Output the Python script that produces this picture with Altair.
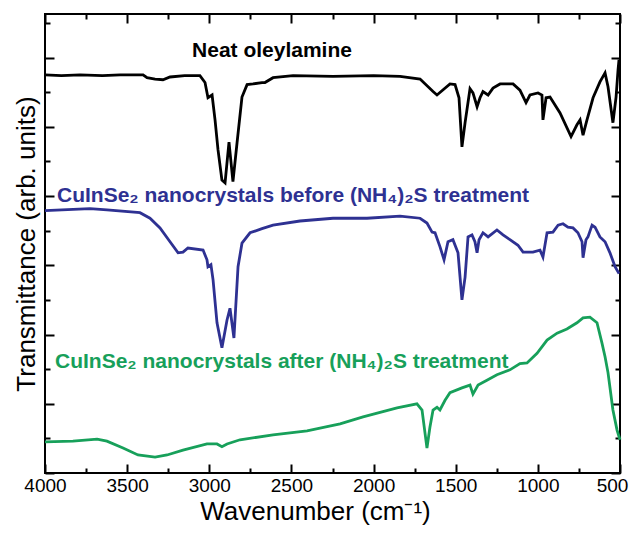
import altair as alt
import pandas as pd

# FTIR spectra: wavenumber (cm^-1) and offset transmittance (arb. units)
oley_wn = [4000, 3900, 3787, 3650, 3543, 3403, 3379, 3330, 3282, 3239, 3150, 3057, 3026, 3008,
           2983, 2965, 2947, 2923, 2904, 2880, 2856, 2831, 2801, 2770, 2734, 2679, 2661, 2612,
           2490, 2247, 2000, 1839, 1717, 1638, 1614, 1535, 1504, 1480, 1462, 1443, 1413, 1395,
           1370, 1352, 1334, 1303, 1273, 1230, 1151, 1109, 1072, 1048, 999, 975, 969, 950, 926,
           865, 798, 762, 743, 725, 701, 664, 622, 591, 573, 543, 524, 512, 506]
oley_t = [5.75, 5.74, 5.75, 5.74, 5.75, 5.75, 5.71, 5.69, 5.68, 5.72, 5.74, 5.74, 5.64, 5.42,
          5.46, 5.10, 4.67, 4.23, 4.19, 4.78, 4.21, 4.77, 5.43, 5.61, 5.62, 5.64, 5.64, 5.71,
          5.74, 5.73, 5.74, 5.73, 5.69, 5.51, 5.46, 5.62, 5.61, 5.42, 4.71, 5.06, 5.55, 5.49,
          5.29, 5.42, 5.51, 5.46, 5.56, 5.62, 5.62, 5.53, 5.35, 5.46, 5.49, 5.46, 5.10, 5.42, 5.43,
          5.20, 4.86, 5.03, 5.10, 4.88, 5.10, 5.42, 5.65, 5.78, 5.58, 5.06, 5.43, 5.82, 5.97]

before_wn = [4000, 3726, 3623, 3422, 3361, 3300, 3239, 3190, 3160, 3130, 3038, 3014, 3008, 2990,
             2977, 2953, 2923, 2892, 2874, 2850, 2825, 2801, 2752, 2679, 2612, 2448, 2247, 2040,
             1839, 1717, 1675, 1644, 1626, 1596, 1571, 1547, 1517, 1486, 1462, 1443, 1425, 1401,
             1383, 1370, 1358, 1334, 1303, 1249, 1212, 1170, 1121, 1090, 1030, 987, 969, 944, 908,
             877, 847, 817, 786, 756, 731, 725, 707, 695, 670, 652, 622, 591, 561, 530, 506]
before_t = [3.79, 3.82, 3.80, 3.76, 3.68, 3.54, 3.34, 3.18, 3.19, 3.25, 3.22, 3.08, 2.98, 3.01,
            2.79, 2.17, 1.81, 2.21, 2.38, 1.95, 2.98, 3.32, 3.47, 3.53, 3.58, 3.64, 3.68, 3.68,
            3.71, 3.68, 3.61, 3.48, 3.47, 3.27, 3.08, 3.34, 3.37, 3.18, 2.50, 2.83, 3.41, 3.44,
            3.34, 3.18, 3.37, 3.47, 3.41, 3.51, 3.44, 3.37, 3.29, 3.19, 3.19, 3.22, 3.12, 3.47, 3.48,
            3.58, 3.60, 3.55, 3.54, 3.47, 3.34, 3.11, 3.37, 3.41, 3.58, 3.55, 3.41, 3.34, 3.18, 2.98, 2.88]

after_wn = [4000, 3830, 3683, 3623, 3525, 3434, 3330, 3257, 3160, 3014, 2953, 2923, 2892, 2813,
            2612, 2405, 2204, 2064, 1857, 1736, 1705, 1675, 1657, 1638, 1614, 1596, 1565, 1535,
            1462, 1413, 1395, 1364, 1310, 1249, 1170, 1109, 1066, 1005, 944, 883, 823, 762, 725,
            683, 640, 610, 591, 573, 543, 518, 500]
after_t = [0.45, 0.46, 0.49, 0.46, 0.36, 0.26, 0.23, 0.26, 0.33, 0.42, 0.42, 0.38, 0.42, 0.48,
           0.55, 0.61, 0.71, 0.81, 0.94, 1.00, 0.91, 0.36, 0.66, 0.91, 0.95, 0.91, 1.05, 1.16,
           1.23, 1.27, 1.14, 1.27, 1.34, 1.42, 1.49, 1.58, 1.59, 1.73, 1.92, 2.02, 2.08, 2.17, 2.24,
           2.25, 2.17, 1.88, 1.68, 1.45, 0.91, 0.62, 0.48]

series_names = ["Neat oleylamine", "Before treatment", "After treatment"]
series_colors = ["#000000", "#2e3192", "#17a05a"]

# Curve labels: text, anchor wavenumber, anchor transmittance
label_text = ["Neat oleylamine",
              "CuInSe\u2082 nanocrystals before (NH\u2084)\u2082S treatment",
              "CuInSe\u2082 nanocrystals after (NH\u2084)\u2082S treatment"]
label_wn = [3105, 3927, 3939]
label_t = [6.01, 3.92, 1.52]

major_x = [4000, 3500, 3000, 2500, 2000, 1500, 1000, 500]
minor_x = [3750, 3250, 2750, 2250, 1750, 1250, 750]
major_y = [0, 1, 2, 3, 4, 5, 6]
minor_y = [0.5, 1.5, 2.5, 3.5, 4.5, 5.5, 6.5]

frames = []
for name, wn, t in zip(series_names, [oley_wn, before_wn, after_wn], [oley_t, before_t, after_t]):
    frames.append(pd.DataFrame({"wn": wn, "t": t, "series": name}))
spectra = pd.DataFrame(pd.concat(frames, ignore_index=True))

W, H = 575, 459
FONT = "Liberation Sans"

xscale = alt.Scale(domain=[500, 4000], reverse=True, nice=False, zero=False)
yscale = alt.Scale(domain=[0, 6.63], nice=False, zero=False)

# Visible spectra with the labelled bottom axis and the left title
lines = alt.Chart(spectra).mark_line(strokeWidth=2.8).encode(
    x=alt.X("wn:Q", scale=xscale,
            axis=alt.Axis(orient="bottom", values=major_x, ticks=False, domain=False, grid=False,
                          labelFontSize=19, labelFont=FONT, labelColor="black", labelPadding=3,
                          labelFlush=False,
                          labelOffset={"condition": {"test": "datum.value == 500", "value": -8},
                                       "value": 0},
                          format="d", title="Wavenumber (cm\u207b\u00b9)", titleFont=FONT,
                          titleFontSize=26, titleFontWeight="normal", titleColor="black",
                          titlePadding=3, titleX=270)),
    y=alt.Y("t:Q", scale=yscale,
            axis=alt.Axis(orient="left", labels=False, ticks=False, domain=False, grid=False,
                          title="Transmittance (arb. units)", titleFont=FONT, titleFontSize=26,
                          titleFontWeight="normal", titleColor="black", titlePadding=6)),
    color=alt.Color("series:N", scale=alt.Scale(domain=series_names, range=series_colors),
                    legend=None),
    detail="series:N",
)


def tick_layer(xorient, yorient, xvals, yvals, size):
    """Invisible layer carrying inward-pointing tick axes on two frame edges."""
    return alt.Chart(spectra).mark_line(opacity=0).encode(
        x=alt.X("wn:Q", scale=xscale,
                axis=alt.Axis(orient=xorient, offset=-H, values=xvals, labels=False,
                              domain=False, grid=False, title=None, tickSize=size,
                              tickWidth=2, tickColor="black")),
        y=alt.Y("t:Q", scale=yscale,
                axis=alt.Axis(orient=yorient, offset=-W, values=yvals, labels=False,
                              domain=False, grid=False, title=None, tickSize=size,
                              tickWidth=2, tickColor="black")),
        detail="series:N",
    )


ticks = [
    tick_layer("top", "right", major_x, major_y, 9),
    tick_layer("top", "right", minor_x, minor_y, 5),
    tick_layer("bottom", "left", major_x, major_y, 9),
    tick_layer("bottom", "left", minor_x, minor_y, 5),
]

labels = []
for txt, wn, t, col in zip(label_text, label_wn, label_t, series_colors):
    labels.append(
        alt.Chart(pd.DataFrame({"wn": [wn], "t": [t], "txt": [txt]}))
        .mark_text(align="left", baseline="alphabetic", font=FONT, fontSize=21,
                   fontWeight="bold", color=col)
        .encode(x=alt.X("wn:Q", scale=xscale, axis=None),
                y=alt.Y("t:Q", scale=yscale, axis=None),
                text="txt:N")
    )

chart = (
    alt.layer(lines, *ticks, *labels)
    .resolve_axis(x="independent", y="independent")
    .properties(width=W, height=H,
                autosize=alt.AutoSizeParams(type="none"),
                padding={"left": 45, "top": 14, "right": 10, "bottom": 60},
                background="white")
    .configure_view(stroke="black", strokeWidth=2)
)

chart.save("out.html", embed_options={"renderer": "svg", "actions": False})
